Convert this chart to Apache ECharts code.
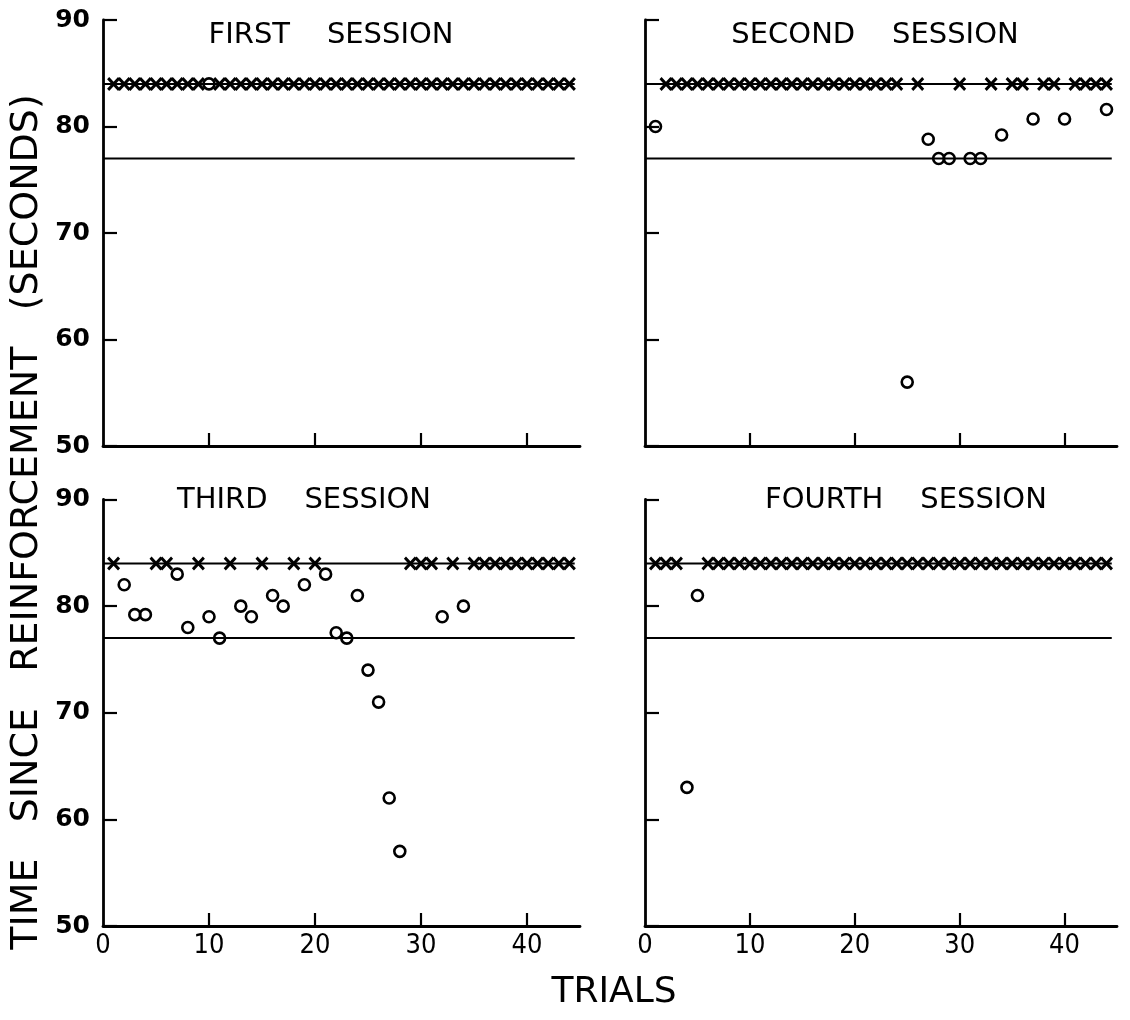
<!DOCTYPE html>
<html>
<head>
<meta charset="utf-8">
<script src="https://cdn.jsdelivr.net/npm/echarts@6/dist/echarts.min.js"></script>
<style>
  html, body { margin: 0; padding: 0; background: #fff; }
  #chart { width: 1130px; height: 1020px; }
</style>
</head>
<body>
<div id="chart"></div>
<script>
// session titles
const sessionNames = ['FIRST    SESSION', 'SECOND    SESSION', 'THIRD    SESSION', 'FOURTH    SESSION']

// trials marked with an X (all sit on the 84 s level)
const xLevel = 84
const s1XTrials = [1, 2, 3, 4, 5, 6, 7, 8, 9, 11, 12, 13, 14, 15, 16, 17, 18, 19, 20, 21, 22, 23, 24, 25, 26, 27, 28, 29, 30, 31, 32, 33, 34, 35, 36, 37, 38, 39, 40, 41, 42, 43, 44]
const s2XTrials = [2, 3, 4, 5, 6, 7, 8, 9, 10, 11, 12, 13, 14, 15, 16, 17, 18, 19, 20, 21, 22, 23, 24, 26, 30, 33, 35, 36, 38, 39, 41, 42, 43, 44]
const s3XTrials = [1, 5, 6, 9, 12, 15, 18, 20, 29, 30, 31, 33, 35, 36, 37, 38, 39, 40, 41, 42, 43, 44]
const s4XTrials = [1, 2, 3, 6, 7, 8, 9, 10, 11, 12, 13, 14, 15, 16, 17, 18, 19, 20, 21, 22, 23, 24, 25, 26, 27, 28, 29, 30, 31, 32, 33, 34, 35, 36, 37, 38, 39, 40, 41, 42, 43, 44]

// trials marked with an O, and their times (seconds)
const s1OTrials = [10]
const s1OTimes = [84]
const s2OTrials = [1, 25, 27, 28, 29, 31, 32, 34, 37, 40, 44]
const s2OTimes = [80, 56, 78.8, 77, 77, 77, 77, 79.2, 80.7, 80.7, 81.6]
const s3OTrials = [2, 3, 4, 7, 8, 10, 11, 13, 14, 16, 17, 19, 21, 22, 23, 24, 25, 26, 27, 28, 32, 34]
const s3OTimes = [82, 79.2, 79.2, 83, 78, 79, 77, 80, 79, 81, 80, 82, 83, 77.5, 77, 81, 74, 71, 62, 57, 79, 80]
const s4OTrials = [4, 5]
const s4OTimes = [63, 81]

// horizontal reference levels and where they stop
const refLevels = [84, 77]
const refStart = 0
const refEnd = 44.5

// axes
const xTicks = [0, 10, 20, 30, 40]

const sessions = [
  { xs: s1XTrials, ot: s1OTrials, ov: s1OTimes },
  { xs: s2XTrials, ot: s2OTrials, ov: s2OTimes },
  { xs: s3XTrials, ot: s3OTrials, ov: s3OTimes },
  { xs: s4XTrials, ot: s4OTrials, ov: s4OTimes }
]

const panels = [
  { left: 103, top: 20, width: 477, height: 426, yLabels: true, xLabels: false },
  { left: 645, top: 20, width: 472, height: 426, yLabels: false, xLabels: false },
  { left: 103, top: 499.5, width: 477, height: 426.5, yLabels: true, xLabels: true },
  { left: 645, top: 499.5, width: 472, height: 426.5, yLabels: false, xLabels: true }
]

const titlePos = [[331, 35], [875, 35], [304, 500], [906, 500]]

// bold X marker
const crossPath = 'path://M0,1.6L1.6,0L5,3.4L8.4,0L10,1.6L6.6,5L10,8.4L8.4,10L5,6.6L1.6,10L0,8.4L3.4,5Z'

const chart = echarts.init(document.getElementById('chart'))

const grid = panels.map(p => ({ left: p.left, top: p.top, width: p.width, height: p.height }))

const xAxis = panels.map((p, i) => ({
  type: 'value',
  gridIndex: i,
  min: 0,
  max: 45,
  interval: 10,
  splitLine: { show: false },
  axisLine: { lineStyle: { color: '#000', width: 2.8 } },
  axisTick: {
    inside: true,
    length: 13,
    customValues: xTicks.slice(1),
    lineStyle: { color: '#000', width: 2.2 }
  },
  axisLabel: {
    show: p.xLabels,
    customValues: xTicks,
    margin: 6,
    color: '#000',
    fontSize: 27,
    fontFamily: '"Liberation Sans Narrow", "DejaVu Sans Condensed", sans-serif'
  }
}))

const yAxis = panels.map((p, i) => ({
  type: 'value',
  gridIndex: i,
  min: 50,
  max: 90,
  interval: 10,
  splitLine: { show: false },
  axisLine: { lineStyle: { color: '#000', width: 2.8 } },
  axisTick: { inside: true, length: 14, lineStyle: { color: '#000', width: 2.2 } },
  axisLabel: {
    show: p.yLabels,
    margin: 13,
    color: '#000',
    fontSize: 25,
    fontWeight: 'bold',
    fontFamily: '"DejaVu Sans", sans-serif'
  }
}))

const series = []
sessions.forEach((s, i) => {
  refLevels.forEach(level => {
    series.push({
      type: 'line',
      xAxisIndex: i,
      yAxisIndex: i,
      data: [[refStart, level], [refEnd, level]],
      symbol: 'none',
      silent: true,
      lineStyle: { color: '#000', width: 2 },
      z: 1
    })
  })
  series.push({
    type: 'scatter',
    xAxisIndex: i,
    yAxisIndex: i,
    data: s.xs.map(t => [t, xLevel]),
    symbol: crossPath,
    symbolSize: [13, 14],
    symbolKeepAspect: false,
    itemStyle: { color: '#000', opacity: 1 },
    z: 3
  })
  series.push({
    type: 'scatter',
    xAxisIndex: i,
    yAxisIndex: i,
    data: s.ot.map((t, k) => [t, s.ov[k]]),
    symbol: 'circle',
    symbolSize: 11,
    itemStyle: { color: 'rgba(0,0,0,0)', borderColor: '#000', borderWidth: 2.6, opacity: 1 },
    z: 4
  })
})

const graphic = sessionNames.map((name, i) => ({
  type: 'text',
  x: titlePos[i][0],
  y: titlePos[i][1],
  style: {
    text: name,
    align: 'center',
    verticalAlign: 'middle',
    fill: '#000',
    font: '29px "DejaVu Sans", sans-serif'
  }
}))

graphic.push({
  type: 'text',
  x: 614,
  y: 993,
  style: {
    text: 'TRIALS',
    align: 'center',
    verticalAlign: 'middle',
    fill: '#000',
    font: '36px "DejaVu Sans", sans-serif'
  }
})

graphic.push({
  type: 'text',
  x: 27,
  y: 522,
  rotation: Math.PI / 2,
  style: {
    text: 'TIME   SINCE   REINFORCEMENT   (SECONDS)',
    align: 'center',
    verticalAlign: 'middle',
    fill: '#000',
    font: '38px "DejaVu Sans", sans-serif'
  }
})

chart.setOption({
  animation: false,
  backgroundColor: '#fff',
  grid,
  xAxis,
  yAxis,
  series,
  graphic
})
</script>
</body>
</html>
